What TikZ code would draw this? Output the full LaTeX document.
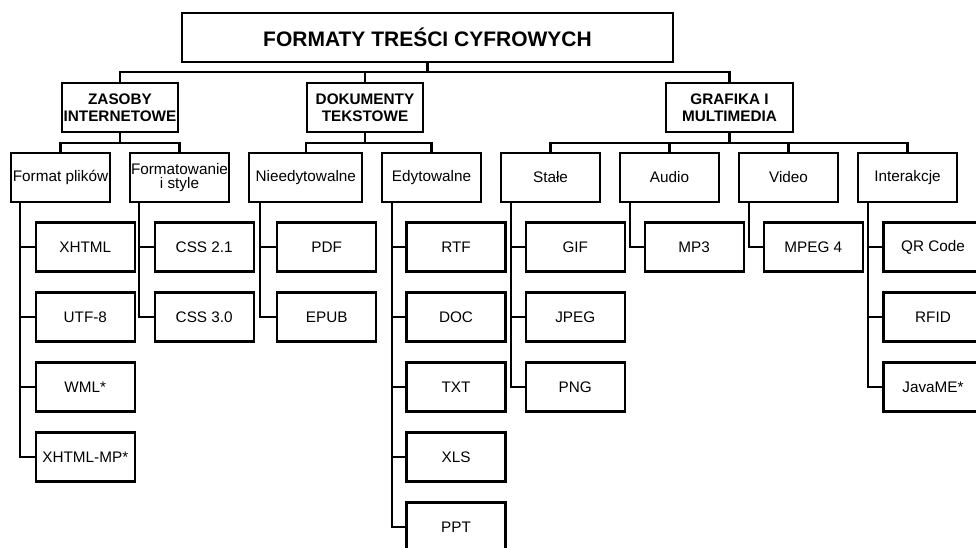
\documentclass[tikz,border=0pt]{standalone}
\usepackage{fontspec}
\setmainfont{Liberation Sans}
\begin{document}
\begin{tikzpicture}[x=1pt,y=-1pt,line width=2.1pt,
  box/.style={draw,rectangle,inner sep=0pt,align=center,
    font=\fontsize{15.3}{16.5}\selectfont,minimum height=49pt,minimum width=99pt},
  topbox/.style={box,font=\bfseries\fontsize{21}{24}\selectfont,minimum width=491pt},
  headbox/.style={box,font=\bfseries\fontsize{15.3}{16.5}\selectfont,minimum width=116pt},
  twoline/.style={font=\fontsize{15.3}{14.5}\selectfont}]
\useasboundingbox (0,0) rectangle (976,547);
\fill[white] (0,0) rectangle (976,547);
\clip (0,0) rectangle (976,547);

% root
\node[topbox] (root) at (427.5,37.5) {FORMATY TREŚCI CYFROWYCH};
% level 1
\node[headbox] (zas) at (120,107.5) {ZASOBY\\INTERNETOWE};
\node[headbox] (dok) at (365,107.5) {DOKUMENTY\\TEKSTOWE};
\node[headbox,minimum width=127pt] (gra) at (729.5,107.5) {GRAFIKA I\\MULTIMEDIA};
% level 2
\node[box] (fp) at (60.5,177.5) {Format plików};
\node[box,twoline] (fs) at (179.5,177.5) {Formatowanie\\i style};
\node[box,minimum width=113pt] (ni) at (305.8,177.5) {Nieedytowalne};
\node[box] (ed) at (431.5,177.5) {Edytowalne};
\node[box] (st) at (550.5,177.5) {Stałe};
\node[box] (au) at (669.5,177.5) {Audio};
\node[box] (vi) at (788.5,177.5) {Video};
\node[box] (ia) at (907.5,177.5) {Interakcje};
% level 3
\node[box] (fp1) at (85.3,247) {XHTML};
\node[box] (fp2) at (85.3,317) {UTF-8};
\node[box] (fp3) at (85.3,387) {WML*};
\node[box] (fp4) at (85.3,457) {XHTML-MP*};
\node[box] (fs1) at (204.2,247) {CSS 2.1};
\node[box] (fs2) at (204.2,317) {CSS 3.0};
\node[box] (ni1) at (326.7,247) {PDF};
\node[box] (ni2) at (326.7,317) {EPUB};
\node[box] (ed1) at (456,247) {RTF};
\node[box] (ed2) at (456,317) {DOC};
\node[box] (ed3) at (456,387) {TXT};
\node[box] (ed4) at (456,457) {XLS};
\node[box] (ed5) at (456,527) {PPT};
\node[box] (st1) at (575.3,247) {GIF};
\node[box] (st2) at (575.3,317) {JPEG};
\node[box] (st3) at (575.3,387) {PNG};
\node[box] (au1) at (694.2,247) {MP3};
\node[box] (vi1) at (813.3,247) {MPEG 4};
\node[box] (ia1) at (933,247) {QR Code};
\node[box] (ia2) at (933,317) {RFID};
\node[box] (ia3) at (933,387) {JavaME*};

% buses level 0 -> 1
\coordinate (b0) at (427.5,72);
\draw (root.south) -- (b0);
\draw (zas.north) |- (b0) -| (gra.north);
\draw (dok.north) -- (dok.north |- b0);
% buses level 1 -> 2
\coordinate (b1) at (120,143);
\draw (zas.south) -- (b1);
\draw (fp.north) |- (b1) -| (fs.north);
\coordinate (b2) at (365,143);
\draw (dok.south) -- (b2);
\draw (ni.north) |- (b2) -| (ed.north);
\coordinate (b3) at (729.5,143);
\draw (gra.south) -- (b3);
\draw (st.north) |- (b3) -| (ia.north);
\draw (au.north) -- (au.north |- b3);
\draw (vi.north) -- (vi.north |- b3);

% level 2 -> 3
\coordinate (fpv) at ([xshift=10.3pt]fp.south west);
\draw (fpv) |- (fp4.west);
\foreach \c in {fp1,fp2,fp3} \draw (fpv |- \c.west) -- (\c.west);
\coordinate (fsv) at ([xshift=10.3pt]fs.south west);
\draw (fsv) |- (fs2.west);
\draw (fsv |- fs1.west) -- (fs1.west);
\coordinate (niv) at ([xshift=11.5pt]ni.south west);
\draw (niv) |- (ni2.west);
\draw (niv |- ni1.west) -- (ni1.west);
\coordinate (edv) at ([xshift=10.6pt]ed.south west);
\draw (edv) |- (ed5.west);
\foreach \c in {ed1,ed2,ed3,ed4} \draw (edv |- \c.west) -- (\c.west);
\coordinate (stv) at ([xshift=10.6pt]st.south west);
\draw (stv) |- (st3.west);
\foreach \c in {st1,st2} \draw (stv |- \c.west) -- (\c.west);
\coordinate (auv) at ([xshift=10.6pt]au.south west);
\draw (auv) |- (au1.west);
\coordinate (viv) at ([xshift=10.6pt]vi.south west);
\draw (viv) |- (vi1.west);
\coordinate (iav) at ([xshift=10.6pt]ia.south west);
\draw (iav) |- (ia3.west);
\foreach \c in {ia1,ia2} \draw (iav |- \c.west) -- (\c.west);
\end{tikzpicture}
\end{document}
